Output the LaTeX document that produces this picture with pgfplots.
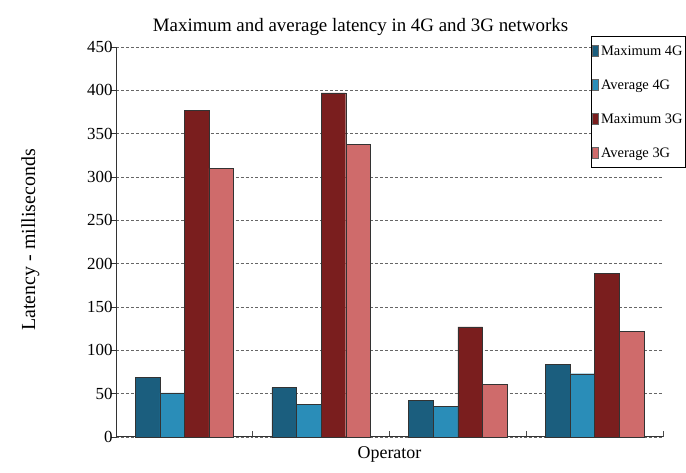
\documentclass[border=0pt]{standalone}
\usepackage{pgfplots}
\pgfplotsset{compat=1.18}
\usepackage{fontspec}
\setmainfont{Liberation Serif}
\definecolor{maxfour}{HTML}{1B5E7E}
\definecolor{avgfour}{HTML}{2A8DB8}
\definecolor{maxthree}{HTML}{7A1E1E}
\definecolor{avgthree}{HTML}{CF6B6B}
\begin{document}
\begin{tikzpicture}[x=1bp,y=1bp]
\path (0,0) rectangle (686,473);
\begin{axis}[
    at={(116bp,36bp)}, anchor=south west,
    width=547bp, height=390bp, scale only axis,
    ybar=0pt, bar width=0.18,
    xmin=-0.5, xmax=3.5,
    ymin=0, ymax=450,
    xtick={-0.5,0.5,1.5,2.5,3.5}, xticklabels={},
    ytick={0,50,...,450},
    tick align=inside,
    x tick style={draw=black!70, line width=0.8pt},
    y tick style={xshift=-5bp, draw=black!80, line width=0.8pt},
    major tick length=6bp,
    axis x line*=bottom, axis y line*=left,
    axis line style={black!80, line width=1pt},
    ymajorgrids=true,
    grid style={densely dashed, black!60, line width=0.7pt},
    /pgf/number format/assume math mode=true,
    tick label style={font=\fontsize{17}{19}\selectfont},
    title={Maximum and average latency in 4G and 3G networks},
    title style={font=\fontsize{19}{21}\selectfont, yshift=2bp, xshift=-29bp},
    xlabel={Operator},
    xlabel style={font=\fontsize{18}{20}\selectfont, yshift=1bp},
    ylabel={Latency - milliseconds},
    ylabel style={font=\fontsize{20}{22}\selectfont},
    every axis y label/.append style={at={(-73bp,197bp)}, anchor=south},
    legend style={at={(1.042,1.028)}, anchor=north east, draw=black, line width=1pt,
      font=\fontsize{14.5}{16}\selectfont, row sep=19bp, inner xsep=1bp, inner ysep=7bp},
    legend cell align=left,
    legend image code/.code={\draw[#1, draw=black!60] (0bp,-5bp) rectangle (6bp,6bp);},
    clip=false,
]
\addplot[fill=maxfour, draw=black!80] coordinates {(0,69) (1,57) (2,42) (3,84)};
\addplot[fill=avgfour, draw=black!80] coordinates {(0,51) (1,38) (2,35) (3,73)};
\addplot[fill=maxthree, draw=black!80] coordinates {(0,377) (1,397) (2,127) (3,189)};
\addplot[fill=avgthree, draw=black!80] coordinates {(0,310) (1,338) (2,61) (3,122)};
\legend{Maximum 4G, Average 4G, Maximum 3G, Average 3G}
\end{axis}
\end{tikzpicture}
\end{document}
